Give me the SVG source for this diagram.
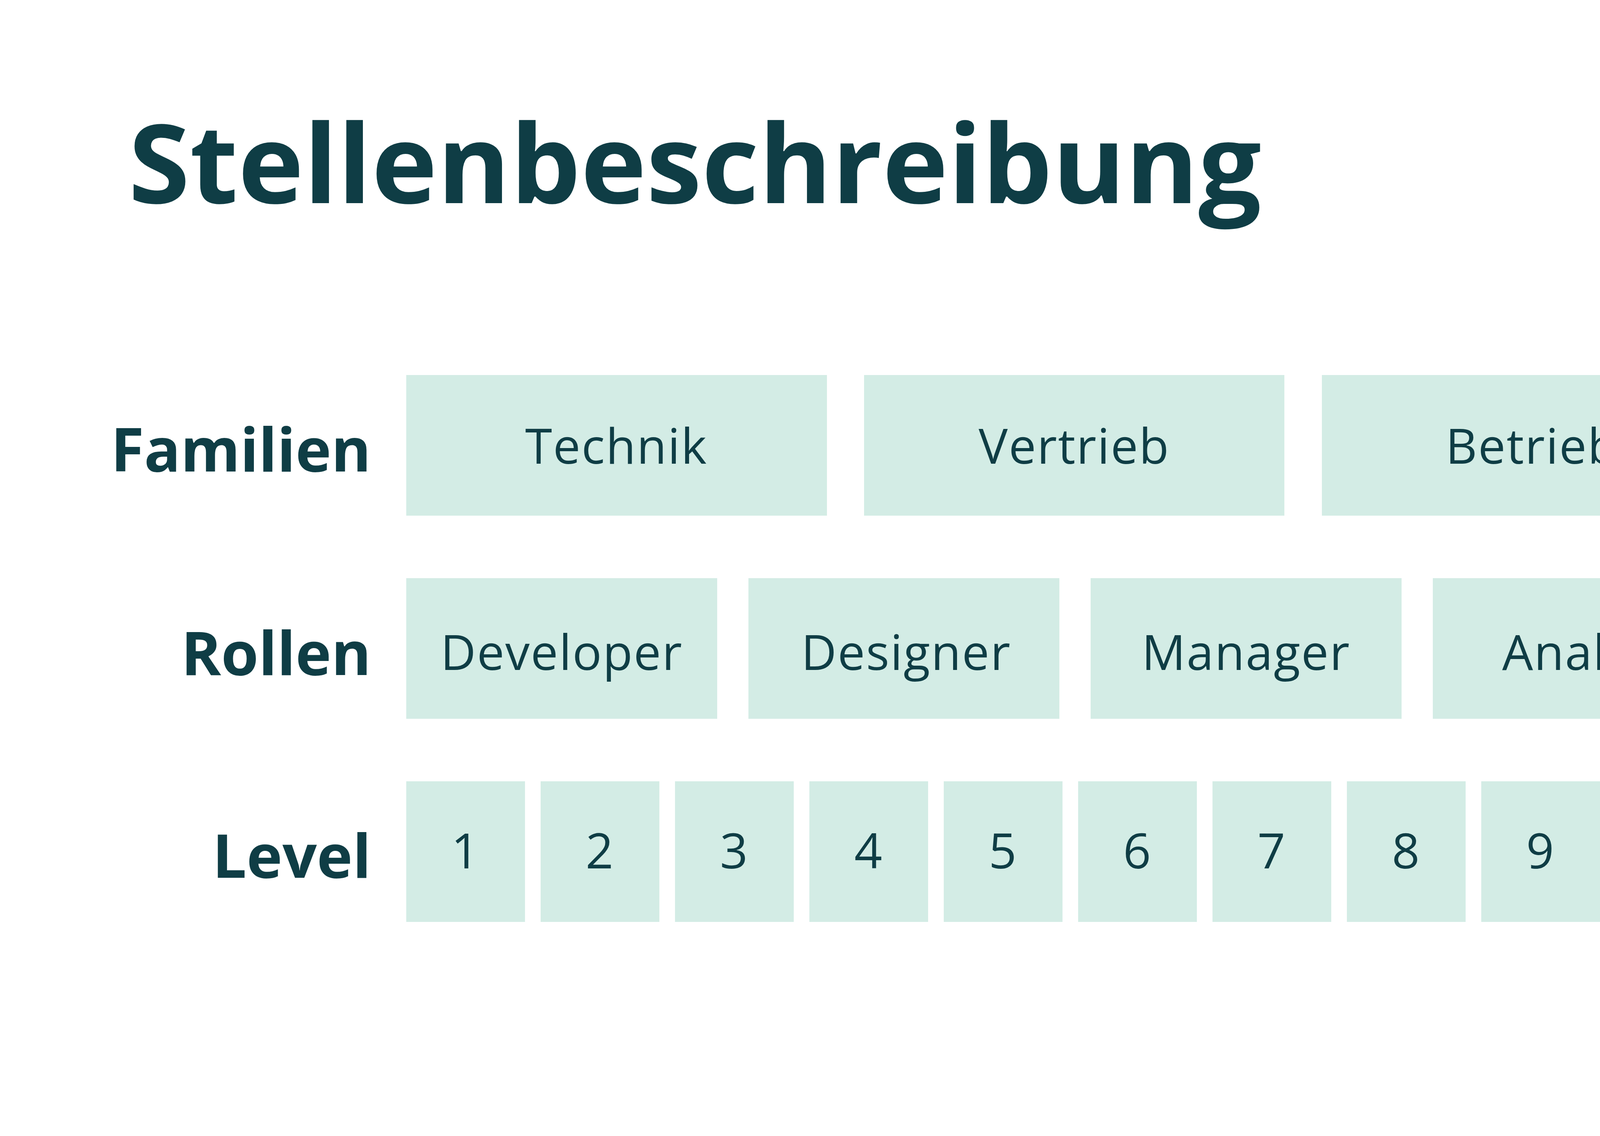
<svg xmlns="http://www.w3.org/2000/svg" width="4784" height="2908" viewBox="0 0 4784 2908">
<style>
.bg{fill:#ffffff}
.box{fill:#D3ECE5}
.t{font-family:"Open Sans","Liberation Sans",sans-serif;fill:#0F3D45}
.title{font-size:280px;font-weight:700}
.lab{font-size:155px;font-weight:700;text-anchor:end}
.bt{font-size:125px;font-weight:400;text-anchor:middle;letter-spacing:2.5px}
</style>
<rect class="bg" x="0" y="0" width="4784" height="2908"/>
<text id="title" class="t title" x="329" y="520" textLength="2900" lengthAdjust="spacingAndGlyphs">Stellenbeschreibung</text>
<g id="row-labels">
<text class="t lab" x="950" y="1207">Familien</text>
<text class="t lab" x="950" y="1728">Rollen</text>
<text class="t lab" x="950" y="2247">Level</text>
</g>
<g id="fam-technik"><rect class="box" x="1040" y="960" width="1077" height="360"/><text class="t bt" x="1578" y="1187">Technik</text></g>
<g id="fam-vertrieb"><rect class="box" x="2212" y="960" width="1076" height="360"/><text class="t bt" x="2750" y="1187">Vertrieb</text></g>
<g id="fam-betrieb"><rect class="box" x="3384" y="960" width="1076" height="360"/><text class="t bt" x="3922" y="1187">Betrieb</text></g>
<g id="role-developer"><rect class="box" x="1040" y="1480" width="796" height="360"/><text class="t bt" x="1438" y="1715">Developer</text></g>
<g id="role-designer"><rect class="box" x="1916" y="1480" width="796" height="360"/><text class="t bt" x="2320" y="1715">Designer</text></g>
<g id="role-manager"><rect class="box" x="2792" y="1480" width="796" height="360"/><text class="t bt" x="3190" y="1715">Manager</text></g>
<g id="role-analyst"><rect class="box" x="3668" y="1480" width="796" height="360"/><text class="t bt" x="4066" y="1715">Analyst</text></g>
<g id="level-1"><rect class="box" x="1040" y="2000" width="304" height="360"/><text class="t bt" x="1192" y="2223">1</text></g>
<g id="level-2"><rect class="box" x="1384" y="2000" width="304" height="360"/><text class="t bt" x="1536" y="2223">2</text></g>
<g id="level-3"><rect class="box" x="1728" y="2000" width="304" height="360"/><text class="t bt" x="1880" y="2223">3</text></g>
<g id="level-4"><rect class="box" x="2072" y="2000" width="304" height="360"/><text class="t bt" x="2224" y="2223">4</text></g>
<g id="level-5"><rect class="box" x="2416" y="2000" width="304" height="360"/><text class="t bt" x="2568" y="2223">5</text></g>
<g id="level-6"><rect class="box" x="2760" y="2000" width="304" height="360"/><text class="t bt" x="2912" y="2223">6</text></g>
<g id="level-7"><rect class="box" x="3104" y="2000" width="304" height="360"/><text class="t bt" x="3256" y="2223">7</text></g>
<g id="level-8"><rect class="box" x="3448" y="2000" width="304" height="360"/><text class="t bt" x="3600" y="2223">8</text></g>
<g id="level-9"><rect class="box" x="3792" y="2000" width="304" height="360"/><text class="t bt" x="3944" y="2223">9</text></g>
<g id="level-10"><rect class="box" x="4136" y="2000" width="304" height="360"/><text class="t bt" x="4288" y="2230">10</text></g>
<g id="connectors"></g>
</svg>
